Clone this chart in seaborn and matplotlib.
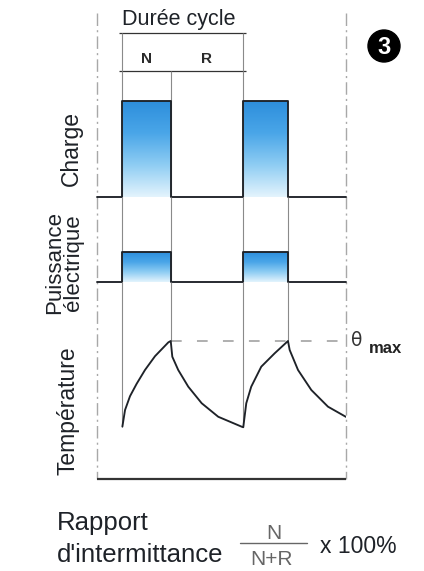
import numpy as np
import matplotlib
matplotlib.use("Agg")
import matplotlib.pyplot as plt
import seaborn as sns
from matplotlib.colors import LinearSegmentedColormap
from matplotlib.patches import Circle

# ---------------- data ----------------
t_start, t_end = -21, 185
switch_on = [0, 100]
switch_off = [40, 137]
segment_labels = ["N", "R"]
cycle_label = "Durée cycle"
row_labels = ["Charge", "Puissance\nélectrique", "Température"]

charge_t = [-21, 0, 40, 100, 137, 185]
charge_v = [0, 1.0, 0, 1.0, 0, 0]
power_t = [-21, 0, 40, 100, 137, 185]
power_v = [0, 0.31, 0, 0.31, 0, 0]

theta_max = 1.0
temp_t = [0, 2.2, 6.3, 11.8, 18.7, 27.0, 38.0, 40,
          41.3, 46.2, 54.5, 65.6, 79.3, 98.7, 100,
          102.5, 106.6, 114.9, 126.0, 137,
          138.4, 145.3, 156.3, 170.1, 185]
temp_v = [0.38, 0.50, 0.60, 0.69, 0.79, 0.89, 0.99, 1.0,
          0.886, 0.79, 0.669, 0.549, 0.451, 0.379, 0.375,
          0.549, 0.669, 0.814, 0.911, 1.0,
          0.935, 0.79, 0.645, 0.524, 0.45]

# ---------------- style ----------------
sns.set_theme(style="white")
plt.rcParams['font.family'] = ['Liberation Sans', 'DejaVu Sans']

W, H = 424, 571
fig = plt.figure(figsize=(W / 100, H / 100), dpi=100)
fig.patch.set_facecolor("white")


def rect(x0, y0, x1, y1):
    return [x0 / W, (H - y1) / H, (x1 - x0) / W, (y1 - y0) / H]


INK = "#1e2228"
THIN = "#8a8a8a"
DASHDOT = "#a8a8a8"
LW = 1.35
grad_cmap = LinearSegmentedColormap.from_list(
    "g", ["#e4f4fd", "#8fcdf3", "#4aa6e8", "#2d8edc"])

# column axes (x = time, y = pixel rows) for top annotations and frame lines
ax_col = fig.add_axes(rect(97, 0, 346, H))
ax_col.set_xlim(t_start, t_end)
ax_col.set_ylim(H, 0)
ax_col.axis("off")
ax_col.patch.set_alpha(0)

ax_ch = fig.add_axes(rect(97, 71, 346, 197))
ax_pw = fig.add_axes(rect(97, 197, 346, 282))
ax_tp = fig.add_axes(rect(97, 282, 346, 479))
ylims = {ax_ch: 1.3125, ax_pw: 0.885, ax_tp: 1.4275}
for a in (ax_ch, ax_pw, ax_tp):
    a.axis("off")
    a.patch.set_alpha(0)

# dash-dot frame lines
ax_col.vlines([t_start, t_end], 13, 479, colors=DASHDOT, lw=1.0,
              linestyles=(0, (9, 3, 1.5, 3)), clip_on=False)

# top dimension lines
ax_col.hlines([33, 71], switch_on[0] - 2.5, switch_on[1] + 2.5, colors="#333333",
              lw=0.9)
ax_col.vlines(switch_on, 33, 71, colors=THIN, lw=0.8)
ax_col.text(switch_on[0], 25, cycle_label, fontsize=15.5, color=INK,
            ha="left", va="baseline")
seg_bounds = [(switch_on[0], switch_off[0]), (switch_off[0], switch_on[1])]
for lab, (a0, a1) in zip(segment_labels, seg_bounds):
    ax_col.text((a0 + a1) / 2, 59, lab, fontsize=11, fontweight="bold",
                color="#2a2a2a", ha="center", va="center")


def gradient_bars(ax, level):
    bars = ax.bar(switch_on, [level] * len(switch_on),
                  width=[e - s for s, e in zip(switch_on, switch_off)],
                  align="edge", color="none", lw=0)
    grad = np.linspace(0, 1, 256).reshape(-1, 1)
    for b in bars:
        im = ax.imshow(grad, extent=[b.get_x(), b.get_x() + b.get_width(), 0, level],
                       origin="lower", aspect="auto", cmap=grad_cmap, zorder=1)
        im.set_clip_path(b)


# charge
gradient_bars(ax_ch, 1.0)
ax_ch.vlines([switch_on[0], switch_off[0], switch_on[1]], 0, ylims[ax_ch],
             colors=THIN, lw=0.8, zorder=2)
sns.lineplot(x=charge_t, y=charge_v, ax=ax_ch, drawstyle="steps-post",
             estimator=None, sort=False, color=INK, lw=LW, legend=False,
             clip_on=False, zorder=3)

# power
gradient_bars(ax_pw, power_v[1])
ax_pw.vlines(switch_on + switch_off, 0, ylims[ax_pw], colors=THIN, lw=0.8, zorder=2)
sns.lineplot(x=power_t, y=power_v, ax=ax_pw, drawstyle="steps-post",
             estimator=None, sort=False, color=INK, lw=LW, legend=False,
             clip_on=False, zorder=3)

# temperature
lookup = dict(zip(temp_t, temp_v))
for t in switch_on + switch_off:
    ax_tp.vlines(t, lookup[t], ylims[ax_tp], colors=THIN, lw=0.8, zorder=2,
                 clip_on=False)
ax_tp.hlines(theta_max, switch_off[0], 181, colors="#9a9a9a", lw=1.1,
             linestyles=(0, (7, 10)), zorder=1)
sns.lineplot(x=temp_t, y=temp_v, ax=ax_tp, estimator=None, sort=False,
             color=INK, lw=LW, legend=False, zorder=3)
ax_tp.hlines(0, t_start, t_end, colors="#333333", lw=1.6, clip_on=False)

for a in (ax_ch, ax_pw, ax_tp):
    a.set_xlim(t_start, t_end)
    a.set_ylim(0, ylims[a])

# overlay (pixel coords) for labels
ax_o = fig.add_axes([0, 0, 1, 1])
ax_o.set_xlim(0, W)
ax_o.set_ylim(H, 0)
ax_o.axis("off")
ax_o.patch.set_alpha(0)

lab_kw = dict(rotation=90, rotation_mode="anchor", ha="center", va="baseline",
              fontsize=16.5, color=INK)
ax_o.text(78, 148, row_labels[0], **lab_kw)
ax_o.text(64, 263, row_labels[1], rotation=90, rotation_mode="anchor",
          ha="center", va="center", multialignment="center", linespacing=0.85,
          fontsize=16, color=INK)
ax_o.text(75, 411, row_labels[2], **lab_kw)

# theta max
ax_o.text(351, 341, "θ", fontsize=13.5, color="#333333", ha="left", va="center",
          family=["DejaVu Sans"])
ax_o.text(369, 353, "max", fontsize=12, fontweight="bold", color="#222222",
          ha="left", va="baseline")

# circled 3
ax_o.add_patch(Circle((384, 46), 16, color="black"))
ax_o.text(384, 47, "3", fontsize=17, fontweight="bold", color="white",
          ha="center", va="center")

# bottom formula
ax_o.text(57, 530, "Rapport", fontsize=18.5, color=INK, ha="left", va="baseline")
ax_o.text(57, 562, "d'intermittance", fontsize=18.5, color=INK, ha="left",
          va="baseline")
ax_o.text(274, 539, "N", fontsize=15, color="#666666", ha="center", va="baseline")
ax_o.plot([240, 307], [543, 543], color="#666666", lw=1.0)
ax_o.text(272, 565, "N+R", fontsize=15, color="#666666", ha="center",
          va="baseline")
ax_o.text(320, 553, "x 100%", fontsize=16.5, color=INK, ha="left", va="baseline")

fig.savefig("out.png", dpi=100, facecolor="white")
